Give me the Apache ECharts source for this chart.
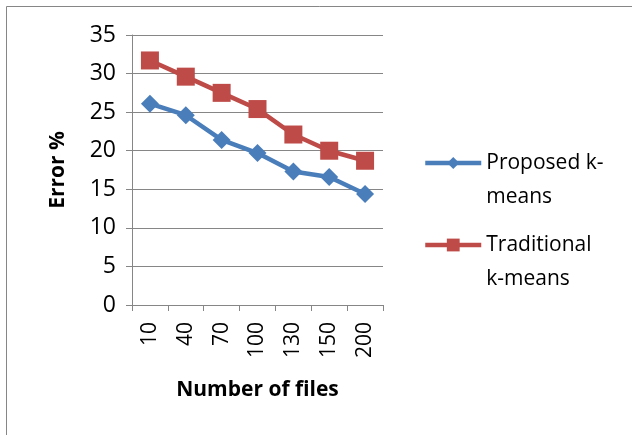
<!DOCTYPE html>
<html><head><meta charset="utf-8">
<script src="https://cdn.jsdelivr.net/npm/echarts@6/dist/echarts.min.js"></script>
<style>html,body{margin:0;padding:0;background:#fff}#c{width:632px;height:435px}</style>
</head><body><div id="c"></div>
<script>
const categories = ['10','40','70','100','130','150','200'];
const proposed = [26.1, 24.6, 21.4, 19.7, 17.3, 16.6, 14.4];
const traditional = [31.7, 29.6, 27.5, 25.4, 22.1, 20.0, 18.7];
const yTicks = [0, 5, 10, 15, 20, 25, 30, 35];

const FONT = '"Open Sans", Lato, sans-serif';
const chart = echarts.init(document.getElementById('c'), null, {renderer:'canvas'});
chart.setOption({
  animation:false,
  backgroundColor:'#fff',
  graphic:[{type:'rect', shape:{x:6.5,y:6.5,width:700,height:500}, style:{fill:'none', stroke:'#868686', lineWidth:1}}],
  grid:{left:132, top:35, width:251, height:270},
  xAxis:{type:'category', data:categories, boundaryGap:true,
    name:'Number of files', nameLocation:'middle', nameGap:75,
    nameTextStyle:{fontFamily:FONT, fontSize:21, fontWeight:'bold', color:'#000'},
    axisLine:{lineStyle:{color:'#868686', width:1}},
    axisTick:{show:true, length:6, lineStyle:{color:'#868686'}},
    axisLabel:{rotate:90, fontFamily:FONT, fontSize:21, color:'#000', margin:17}},
  yAxis:{type:'value', min:yTicks[0], max:yTicks[yTicks.length-1], interval:5,
    name:'Error %', nameLocation:'middle', nameGap:63,
    nameTextStyle:{fontFamily:FONT, fontSize:21, fontWeight:'bold', color:'#000'},
    axisLine:{show:true, lineStyle:{color:'#868686', width:1}},
    axisTick:{show:true, length:6, lineStyle:{color:'#868686'}},
    splitLine:{lineStyle:{color:'#868686', width:1}},
    axisLabel:{fontFamily:FONT, fontSize:23, color:'#000', margin:16}},
  legend:[
    {data:['Proposed k-means'], left:418, top:107, orient:'vertical', itemWidth:56, itemHeight:15, itemGap:0,
     lineStyle:{width:4.5},
     formatter:()=> '\nProposed k-\nmeans',
     textStyle:{fontFamily:FONT, fontSize:21, color:'#000', lineHeight:34}},
    {data:['Traditional k-means'], left:418, top:189, orient:'vertical', itemWidth:56, itemHeight:16, itemGap:0,
     lineStyle:{width:4.5},
     formatter:()=> '\nTraditional\nk-means',
     textStyle:{fontFamily:FONT, fontSize:21, color:'#000', lineHeight:34}}
  ],
  series:[
    {name:'Proposed k-means', type:'line', data:proposed, symbol:'diamond', symbolSize:18,
     lineStyle:{color:'#4A7EBB', width:4.5}, itemStyle:{color:'#4A7EBB'}},
    {name:'Traditional k-means', type:'line', data:traditional, symbol:'rect', symbolSize:18,
     lineStyle:{color:'#BE4B48', width:4.5}, itemStyle:{color:'#BE4B48'}}
  ]
});
</script></body></html>
